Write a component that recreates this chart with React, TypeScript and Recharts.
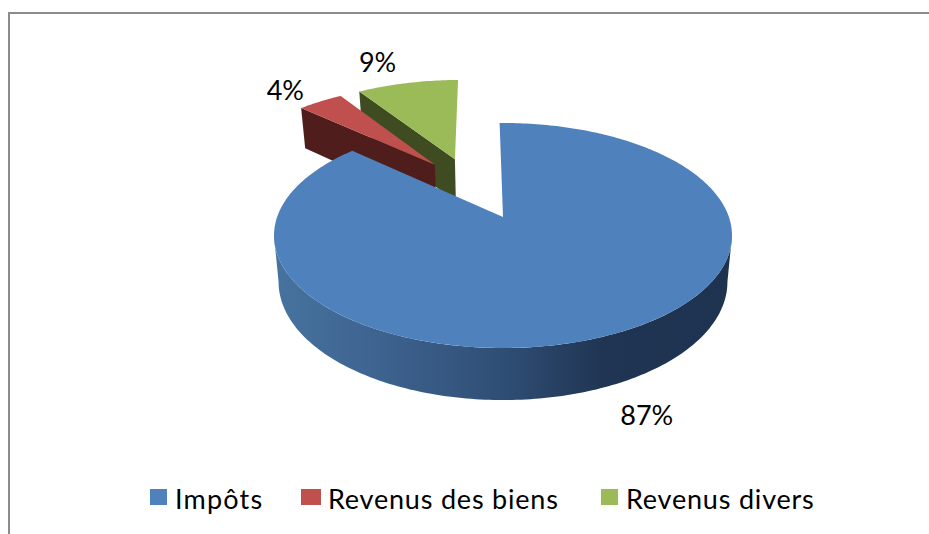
import React from "react";
import { PieChart, Pie, Legend } from "recharts";

const categories = ["Impôts", "Revenus des biens", "Revenus divers"];
const values = [87, 4, 9];
const faceColors = ["#4F81BD", "#C0504D", "#9BBB59"];
const wallColors = ["url(#blueWall)", "#4F1E1C", "#3F4C22"];

// the series is handed to the pie in reverse so that the big slice is painted last (in front)
const table = categories
  .map((name, i) => ({ name, value: values[i], fill: faceColors[i], wall: wallColors[i] }))
  .reverse();

const explodeAngle: Record<string, number> = { "Impôts": 0, "Revenus des biens": 122.3, "Revenus divers": 112 };
const explodeDist: Record<string, number> = { "Impôts": 0, "Revenus des biens": 0.612, "Revenus divers": 0.622 };
const labelShift: Record<string, [number, number]> = {
  "Impôts": [34, 80],
  "Revenus des biens": [-35, -12],
  "Revenus divers": [-30, -22],
};

const K = 0.164; // perspective strength
const TILT = 0.4913; // ellipse height / width
const RAD = Math.PI / 180;
const DEPTH_X = 0.98;
const DEPTH_BASE = 40;
const DEPTH_RATE = 0.05;
const DEPTH_REF_Y = 107;

type P = [number, number];

function project(u: number, v: number, cx: number, cy: number, R: number): P {
  const w = 1 + K * v;
  const a = R * Math.sqrt(1 - K * K);
  return [cx + (a * u) / w, cy - (R * TILT * (v + K)) / w];
}
function lower(p: P, cx: number): P {
  return [cx + (p[0] - cx) * DEPTH_X, p[1] + DEPTH_BASE + (p[1] - DEPTH_REF_Y) * DEPTH_RATE];
}
function offsetOf(name: string): P {
  const d = explodeDist[name] || 0;
  const a = (explodeAngle[name] || 0) * RAD;
  return [d * Math.cos(a), d * Math.sin(a)];
}
function arc(from: number, to: number, o: P, cx: number, cy: number, R: number): P[] {
  const n = Math.max(2, Math.ceil(Math.abs(to - from)));
  const pts: P[] = [];
  for (let i = 0; i <= n; i++) {
    const t = (from + ((to - from) * i) / n) * RAD;
    pts.push(project(o[0] + Math.cos(t), o[1] + Math.sin(t), cx, cy, R));
  }
  return pts;
}
const pathOf = (pts: P[]) => "M" + pts.map((p) => `${p[0].toFixed(2)},${p[1].toFixed(2)}`).join("L") + "Z";

function Slice3D(props: any) {
  const { cx, cy, outerRadius: R, startAngle, endAngle, fill } = props;
  const name: string = props.name ?? props.payload?.name;
  const wall: string = props.wall ?? props.payload?.wall;
  const o = offsetOf(name);
  const apex = project(o[0], o[1], cx, cy, R);
  const rim = arc(startAngle, endAngle, o, cx, cy, R);
  const isBig = endAngle - startAngle > 180;
  let wallPts: P[];
  if (isBig) {
    // from the left silhouette point of the rim to the right one
    const edge = Math.asin(K) / RAD;
    const up = arc(180 + edge, 360 - edge, o, cx, cy, R);
    wallPts = [...up, ...up.slice().reverse().map((p) => lower(p, cx))];
  } else {
    const corner = rim[rim.length - 1];
    wallPts = [apex, corner, lower(corner, cx), lower(apex, cx)];
  }
  return (
    <g>
      {isBig && (
        <defs>
          <linearGradient id="blueWall" gradientUnits="userSpaceOnUse" x1={cx - R} y1={0} x2={cx + R} y2={0}>
            <stop offset="0" stopColor="#47739F" />
            <stop offset="0.2" stopColor="#3F6592" />
            <stop offset="0.5" stopColor="#2F4E75" />
            <stop offset="0.72" stopColor="#203553" />
            <stop offset="1" stopColor="#1E3350" />
          </linearGradient>
        </defs>
      )}
      <path d={pathOf(wallPts)} fill={wall} stroke="none" />
      <path d={pathOf([apex, ...rim])} fill={fill} stroke="none" />
    </g>
  );
}

function SliceLabel(props: any) {
  const { cx, cy, outerRadius: R, midAngle, percent } = props;
  const name: string = props.name ?? props.payload?.name;
  const o = offsetOf(name);
  const t = midAngle * RAD;
  const rimMid = project(o[0] + Math.cos(t), o[1] + Math.sin(t), cx, cy, R);
  const s = labelShift[name] || [0, 0];
  return (
    <text
      x={rimMid[0] + s[0]}
      y={rimMid[1] + s[1]}
      textAnchor="middle"
      dominantBaseline="central"
      fontFamily="Lato"
      fontSize={27}
      fill="#000"
    >
      {Math.round(percent * 100)}%
    </text>
  );
}

const swatchStarts = [150, 301, 601];
const swatchWidths = [17, 20, 17];
const textStarts = [175, 328, 626];

function LegendBody(props: any) {
  const items = (props.payload || [])
    .slice()
    .sort((a: any, b: any) => categories.indexOf(a.value) - categories.indexOf(b.value));
  return (
    <div style={{ position: "relative", width: 929, height: 40 }}>
      {items.map((it: any, i: number) => (
        <React.Fragment key={it.value}>
          <span
            style={{
              position: "absolute",
              left: swatchStarts[i],
              top: 6,
              width: swatchWidths[i],
              height: 16,
              background: it.color,
            }}
          />
          <span
            style={{
              position: "absolute",
              left: textStarts[i],
              top: 0,
              fontFamily: "Lato",
              fontSize: 27,
              lineHeight: "32px",
              letterSpacing: i === 0 ? "1.2px" : "0.8px",
              color: "#000",
              whiteSpace: "nowrap",
            }}
          >
            {it.value}
          </span>
        </React.Fragment>
      ))}
    </div>
  );
}

export default function App() {
  return (
    <div style={{ position: "absolute", left: 0, top: 0, width: 929, height: 534, overflow: "hidden", background: "#fff" }}>
      <div
        style={{
          position: "absolute",
          left: 8,
          top: 12,
          width: 921,
          height: 522,
          boxSizing: "border-box",
          borderTop: "2px solid #8C8C8C",
          borderLeft: "2px solid #8C8C8C",
        }}
      />
      <PieChart
        width={929}
        height={534}
        margin={{ top: 0, right: 0, bottom: 0, left: 0 }}
        style={{ position: "absolute", left: 0, top: 0 }}
      >
        <Pie
          data={table}
          dataKey="value"
          nameKey="name"
          cx={503}
          cy={235.5}
          innerRadius={0}
          outerRadius={229}
          startAngle={91}
          endAngle={451}
          stroke="none"
          shape={Slice3D}
          label={SliceLabel}
          labelLine={false}
          isAnimationActive={false}
        />
        <Legend
          content={LegendBody}
          wrapperStyle={{ position: "absolute", left: 0, top: 483, width: 929, height: 40 }}
        />
      </PieChart>
    </div>
  );
}
